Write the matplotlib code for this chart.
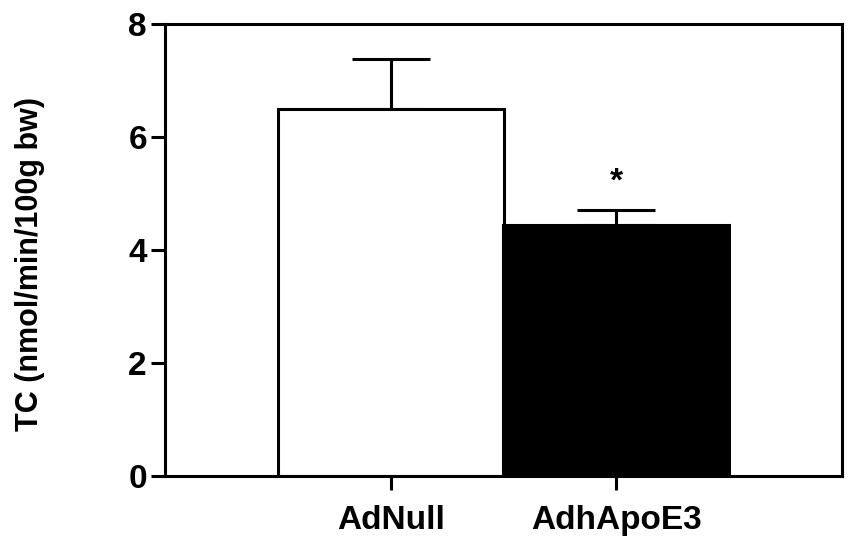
import matplotlib.pyplot as plt

plt.rcParams['font.family'] = ['Liberation Sans', 'DejaVu Sans']
plt.rcParams['font.weight'] = 'bold'

groups = ["AdNull", "AdhApoE3"]
means = [6.5, 4.45]
sem = [0.88, 0.26]
bar_colors = ["white", "black"]
sig_marks = ["", "*"]

fig = plt.figure(figsize=(8.49, 5.38), dpi=100)
ax = fig.add_axes([165 / 849, 1 - 476 / 538, 677 / 849, 452 / 538])

pos = list(range(len(groups)))
ax.bar(pos, means, width=1.0, color=bar_colors, edgecolor="black", linewidth=2.2, zorder=2)

# upward-only error bars
ax.errorbar(pos, means, yerr=[[0] * len(sem), sem], fmt="none", ecolor="black",
            elinewidth=2.2, capsize=28, capthick=2.2, zorder=1)

for p, m, s, mark in zip(pos, means, sem, sig_marks):
    if mark:
        ax.text(p, m + s + 0.22, mark, ha="center", va="bottom", fontsize=24)

ax.set_xlim(-1, 2)
ax.set_ylim(0, 8)
ax.set_yticks([0, 2, 4, 6, 8])
ax.set_xticks(pos)
ax.set_xticklabels(groups)
ax.set_ylabel("TC (nmol/min/100g bw)", fontsize=22, fontweight="bold", va="center")
ax.yaxis.set_label_coords(-0.2, 0.47)

for sp in ax.spines.values():
    sp.set_linewidth(2.2)
ax.tick_params(axis="both", width=2.2, length=10, labelsize=24, pad=3)
ax.tick_params(axis="x", pad=11)
for lbl in ax.get_xticklabels() + ax.get_yticklabels():
    lbl.set_fontweight("bold")

fig.savefig("out.png", dpi=100)
